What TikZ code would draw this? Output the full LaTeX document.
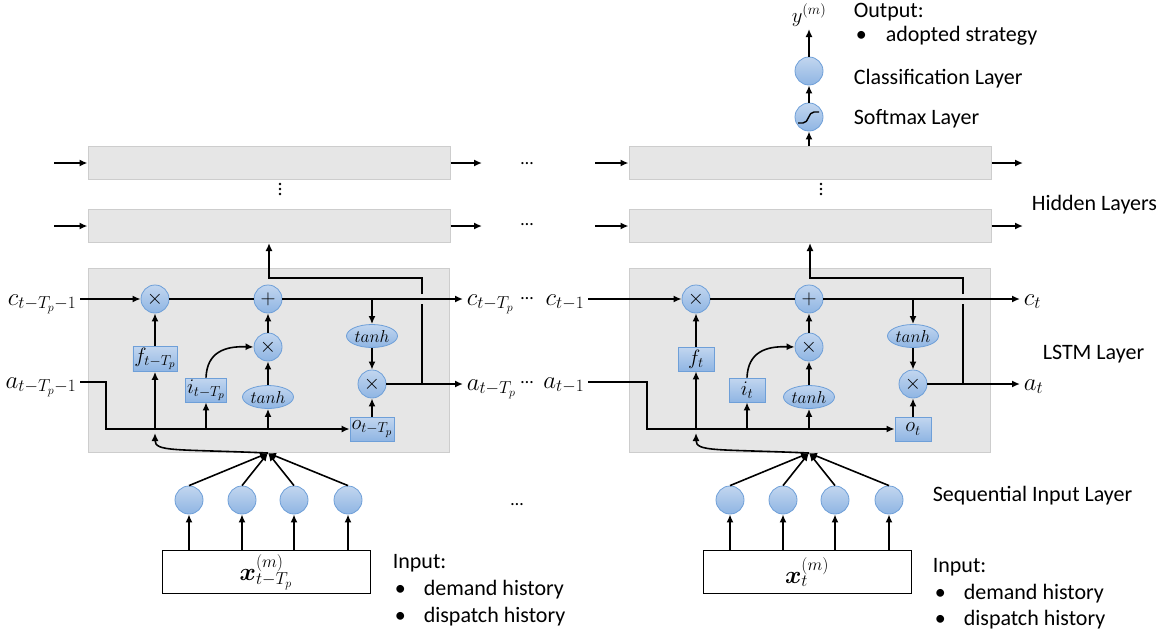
\documentclass[tikz,border=0pt]{standalone}
\usepackage[no-math]{fontspec}
\usepackage{bm}
\setmainfont{Carlito}
\usetikzlibrary{arrows.meta,shapes.geometric}
\definecolor{celltop}{HTML}{C2D6EF}
\definecolor{cellbot}{HTML}{8FB5E3}
\definecolor{cellline}{HTML}{6E9FD8}
\definecolor{layerfill}{HTML}{E6E6E6}
\definecolor{layerline}{HTML}{CDCDCD}
\begin{document}
\begin{tikzpicture}
		[	x=1pt,y=-1pt,line width=1.6pt,>={Latex[length=8pt,width=7pt]},
		layer/.style={rectangle,draw=layerline,fill=layerfill,line width=1pt,minimum width=362pt},
		cell/.style={circle,draw=cellline,line width=0.8pt,top color=celltop,bottom color=cellbot,minimum size=28pt,inner sep=0pt,font=\fontsize{20}{24}\selectfont},
		gatebox/.style={rectangle,draw=cellline,line width=0.8pt,top color=celltop,bottom color=cellbot,minimum width=36pt,minimum height=24pt,inner sep=1.5pt,font=\fontsize{21}{24}\selectfont},
		act/.style={ellipse,draw=cellline,line width=0.8pt,top color=celltop,bottom color=cellbot,minimum width=51pt,minimum height=23pt,inner sep=0pt,font=\fontsize{18}{22}\selectfont},
		lbl/.style={inner sep=1pt,font=\fontsize{24}{28}\selectfont},
		plain/.style={anchor=base west,inner sep=0pt,font=\fontsize{22}{26}\selectfont},
		dots/.style={inner sep=0pt,font=\fontsize{18}{20}\selectfont}
		]
\useasboundingbox (0,0) rectangle (1174,635);

% two time steps: t-T_p and t
\foreach \dx/\nm/\sub/\prev/\xin/\xout in {0/L/{t-T_p}/{t-T_p-1}/80/463, 541/R/t/{t-1}/47/479}{
	% hidden layers
	\node[layer,minimum height=33pt] (\nm-h1) at (\dx+269,163) {};
	\node[layer,minimum height=33pt] (\nm-h2) at (\dx+269,226) {};
	\foreach \vy in {184,189,194}
		\fill (\dx+280,\vy) circle (1.3);
	\coordinate (\nm-hi1) at (\dx+54,163);
	\coordinate (\nm-hi2) at (\dx+54,226);
	\coordinate (\nm-ho1) at (\dx+482,163);
	\coordinate (\nm-ho2) at (\dx+482,226);
	\draw[->] (\nm-hi1) -- (\nm-h1.west);
	\draw[->] (\nm-hi2) -- (\nm-h2.west);
	\draw[->] (\nm-h1.east) -- (\nm-ho1);
	\draw[->] (\nm-h2.east) -- (\nm-ho2);

	% LSTM cell
	\node[layer,minimum width=361pt,minimum height=184pt] (\nm-lstm) at (\dx+268.5,360) {};
	\node[cell] (\nm-m1) at (\dx+155,299) {$\times$};
	\node[cell] (\nm-add) at (\dx+268,299) {$+$};
	\node[cell] (\nm-m2) at (\dx+268,347) {$\times$};
	\node[cell] (\nm-m3) at (\dx+372,384) {$\times$};
	\node[act] (\nm-th1) at (\dx+372,336) {$tanh$};
	\node[act] (\nm-th2) at (\dx+268,397) {$tanh$};
	\node[gatebox] (\nm-f) at (\dx+155,359) {$f_{\sub}$};
	\node[gatebox] (\nm-i) at (\dx+206,390) {$i_{\sub}$};
	\node[gatebox] (\nm-o) at (\dx+372,429) {$o_{\sub}$};

	\coordinate (\nm-cs) at (\dx+\xin,299);
	\coordinate (\nm-as) at (\dx+\xin,382);
	\coordinate (\nm-ce) at (\dx+\xout,299);
	\coordinate (\nm-ae) at (\dx+\xout,384);
	\node[lbl,anchor=base east] (\nm-cin) at (\dx+\xin-2,305) {$c_{\prev}$};
	\node[lbl,anchor=base east] (\nm-ain) at (\dx+\xin-2,388) {$a_{\prev}$};
	\node[lbl,anchor=base west] (\nm-cout) at (\dx+\xout+2,305) {$c_{\sub}$};
	\node[lbl,anchor=base west] (\nm-aout) at (\dx+\xout+2,390) {$a_{\sub}$};

	\draw[->] (\nm-cs) -- (\nm-m1);
	\draw (\nm-m1) -- (\nm-add);
	\draw[->] (\nm-add) -- (\nm-ce);
	\coordinate (\nm-b1) at (\dx+372,299);
	\draw[->] (\nm-b1) -- (\nm-th1);
	\draw[->] (\nm-th1) -- (\nm-m3);
	\draw[->] (\nm-f) -- (\nm-m1);
	\draw[->] (\nm-m2) -- (\nm-add);
	\draw[->] (\nm-th2) -- (\nm-m2);
	\draw[->] (\nm-i.north) .. controls (\dx+207,352) and (\dx+225,346) .. (\nm-m2.west);
	\draw[->] (\nm-o) -- (\nm-m3);
	\draw[->] (\nm-as) -- (\dx+106,382) |- (\nm-o.west);
	\draw[->] (\nm-f |- \nm-o.west) -- (\nm-f.south);
	\draw[->] (\nm-i |- \nm-o.west) -- (\nm-i.south);
	\draw[->] (\nm-th2 |- \nm-o.west) -- (\nm-th2.south);

	% output a and shortcut to hidden layer
	\coordinate (\nm-j) at (\dx+422,384);
	\coordinate (\nm-k) at (\dx+422,278);
	\draw (\nm-m3) -- (\nm-j);
	\draw[->] (\nm-j) -- (\nm-ae);
	\draw (\nm-j) -- (\dx+422,304);
	\draw[->] (\dx+422,294) -- (\nm-k) -| (\nm-h2.south);

	% input layer
	\foreach \k/\nx in {1/189,2/242,3/294,4/348}{
		\node[cell] (\nm-n\k) at (\dx+\nx,500) {};
	}
	\coordinate (\nm-top) at (\dx+268,453);
	\coordinate (\nm-fin) at (\dx+155,433);
	\node[draw,line width=1pt,fill=white,minimum width=208pt,minimum height=43pt,font=\fontsize{24}{28}\selectfont] (\nm-x) at (\dx+266,572) {$\bm{x}^{(m)}_{\sub}$};
	\foreach \k in {1,...,4}{
		\draw[->] (\nm-n\k |- \nm-x.north) -- (\nm-n\k.south);
		\draw[->] (\nm-n\k.north) -- (\nm-top);
	}
	\draw[->] (\nm-top) .. controls (\dx+175,449) and (\dx+155,452) .. (\nm-fin);
}

% dots between the time steps
\node[dots] (d1) at (527,164) {…};
\node[dots] (d2) at (527,225) {…};
\node[dots] (d3) at (527,299) {…};
\node[dots] (d4) at (527,383) {…};
\node[dots] (d5) at (517,505) {…};

% softmax and classification
\node[cell] (soft) at (809,117) {};
\draw[line width=1.4pt] (798,123) -- (803,123) .. controls (809,123) and (808,112) .. (814,112) -- (819,112);
\node[cell] (cls) at (809,71) {};
\coordinate (yend) at (809,29);
\node[lbl,anchor=base,font=\fontsize{22}{26}\selectfont] (y) at (809,22) {$y^{(m)}$};
\draw[->] (soft |- R-h1.north) -- (soft.south);
\draw[->] (soft) -- (cls);
\draw[->] (cls) -- (yend);

% layer names
\node[plain] (outhead) at (853,17) {Output:};
\node[plain] (outitem) at (855,41) {\makebox[30pt][l]{\textbullet}adopted strategy};
\node[plain] (clsname) at (853,84) {Classification Layer};
\node[plain] (softname) at (853,124) {Softmax Layer};
\node[plain] (hidname) at (1031,210) {Hidden Layers};
\node[plain] (lstmname) at (1042,359) {LSTM Layer};
\node[plain] (inname) at (932,501) {Sequential Input Layer};
\node[plain] (inhead1) at (392,568) {Input:};
\node[plain] (initem1) at (394,595) {\makebox[29pt][l]{\textbullet}demand history};
\node[plain] (initem2) at (394,622) {\makebox[29pt][l]{\textbullet}dispatch history};
\node[plain] (inhead2) at (932,572) {Input:};
\node[plain] (initem3) at (934,599) {\makebox[29pt][l]{\textbullet}demand history};
\node[plain] (initem4) at (934,625) {\makebox[29pt][l]{\textbullet}dispatch history};
\end{tikzpicture}
\end{document}
